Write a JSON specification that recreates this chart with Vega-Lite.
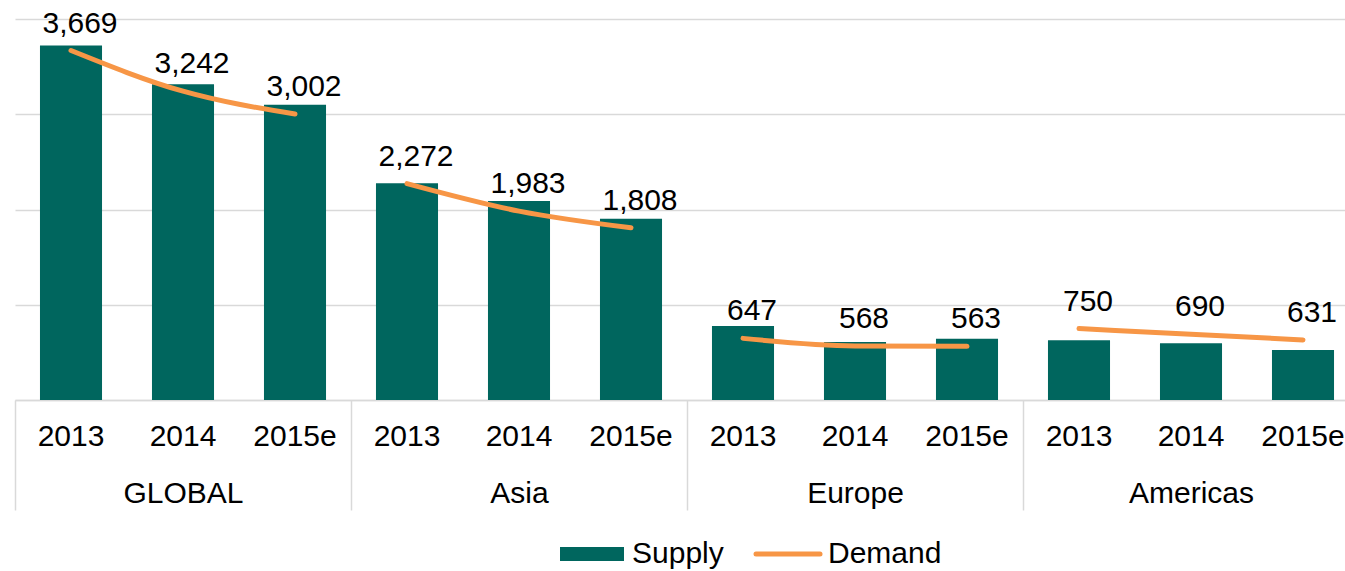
{
  "$schema": "https://vega.github.io/schema/vega-lite/v6.json",
  "autosize": {"type": "none"},
  "padding": {"left": 15, "top": 19, "right": 0, "bottom": 171},
  "width": 1330,
  "height": 381,
  "background": "#ffffff",
  "config": {
    "view": {"stroke": null},
    "font": "Liberation Sans",
    "text": {"font": "Liberation Sans"}
  },
  "data": {
    "values": [
      {"key": "GLOBAL|2013", "region": "GLOBAL", "year": "2013", "supply": 3722, "demand": 3669},
      {"key": "GLOBAL|2014", "region": "GLOBAL", "year": "2014", "supply": 3316, "demand": 3242},
      {"key": "GLOBAL|2015e", "region": "GLOBAL", "year": "2015e", "supply": 3099, "demand": 3002},
      {"key": "Asia|2013", "region": "Asia", "year": "2013", "supply": 2275, "demand": 2272},
      {"key": "Asia|2014", "region": "Asia", "year": "2014", "supply": 2089, "demand": 1983},
      {"key": "Asia|2015e", "region": "Asia", "year": "2015e", "supply": 1903, "demand": 1808},
      {"key": "Europe|2013", "region": "Europe", "year": "2013", "supply": 776, "demand": 647},
      {"key": "Europe|2014", "region": "Europe", "year": "2014", "supply": 609, "demand": 568},
      {"key": "Europe|2015e", "region": "Europe", "year": "2015e", "supply": 643, "demand": 563},
      {"key": "Americas|2013", "region": "Americas", "year": "2013", "supply": 626, "demand": 750},
      {"key": "Americas|2014", "region": "Americas", "year": "2014", "supply": 595, "demand": 690},
      {"key": "Americas|2015e", "region": "Americas", "year": "2015e", "supply": 525, "demand": 631}
    ]
  },
  "resolve": {"scale": {"x": "independent"}, "axis": {"x": "independent"}},
  "layer": [
    {
      "layer": [
        {
          "mark": {"type": "bar", "color": "#00665E"},
          "encoding": {
            "x": {
              "field": "key", "type": "nominal", "sort": null,
              "scale": {"range": [0, 1344], "paddingInner": 0.446, "paddingOuter": 0.223},
              "axis": {
                "orient": "bottom", "title": null, "ticks": false,
                "domain": true, "domainColor": "#D9D9D9", "domainWidth": 1.5,
                "labelExpr": "split(datum.label, '|')[1]",
                "labelAngle": 0, "labelFontSize": 30, "labelColor": "#000000",
                "labelFont": "Liberation Sans", "labelPadding": 21
              }
            },
            "y": {
              "field": "supply", "type": "quantitative",
              "scale": {"domain": [0, 4000], "nice": false},
              "axis": {
                "title": null, "labels": false, "ticks": false, "domain": false,
                "values": [0, 1000, 2000, 3000, 4000],
                "grid": true, "gridColor": "#D9D9D9", "gridWidth": 1.5
              }
            },
            "color": {
              "datum": "Supply",
              "scale": {"domain": ["Supply", "Demand"], "range": ["#00665E", "#F79646"]},
              "legend": {
                "orient": "none", "legendX": 562, "legendY": 520,
                "direction": "horizontal", "title": null,
                "labelFontSize": 30, "labelFont": "Liberation Sans", "labelColor": "#000000",
                "labelOffset": 25, "columnPadding": 22, "symbolSize": 4096,
                "symbolOpacity": 1,
                "encode": {
                  "symbols": {
                    "update": {
                      "shape": {"signal": "datum.value === 'Demand' ? 'stroke' : 'M-1,-0.22H1V0.22H-1Z'"},
                      "fill": {"signal": "datum.value === 'Demand' ? 'transparent' : '#00665E'"},
                      "stroke": {"signal": "datum.value === 'Demand' ? '#F79646' : 'transparent'"},
                      "strokeWidth": {"signal": "datum.value === 'Demand' ? 5 : 0"},
                      "strokeCap": {"value": "round"},
                      "opacity": {"value": 1}
                    }
                  }
                }
              }
            }
          }
        },
        {
          "mark": {"type": "line", "strokeWidth": 5, "strokeCap": "round", "interpolate": "monotone"},
          "encoding": {
            "x": {"field": "key", "type": "nominal", "sort": null},
            "y": {"field": "demand", "type": "quantitative"},
            "detail": {"field": "region"},
            "color": {"datum": "Demand"}
          }
        },
        {
          "mark": {"type": "text", "fontSize": 30, "font": "Liberation Sans", "color": "#000000", "dy": -27, "dx": 9, "baseline": "middle"},
          "encoding": {
            "x": {"field": "key", "type": "nominal", "sort": null},
            "y": {"field": "demand", "type": "quantitative"},
            "text": {"field": "demand", "type": "quantitative", "format": ",d"}
          }
        }
      ]
    },
    {
      "mark": {"type": "rule", "opacity": 0},
      "encoding": {
        "x": {
          "field": "region", "type": "nominal", "sort": null,
          "scale": {"range": [0, 1344], "paddingInner": 0, "paddingOuter": 0},
          "axis": {
            "orient": "bottom", "title": null, "domain": false,
            "ticks": true, "tickBand": "extent", "tickSize": 110,
            "tickColor": "#D9D9D9", "tickWidth": 1.5,
            "labelAngle": 0, "labelFontSize": 30, "labelColor": "#000000",
            "labelFont": "Liberation Sans", "labelPadding": -32
          }
        }
      }
    }
  ]
}
